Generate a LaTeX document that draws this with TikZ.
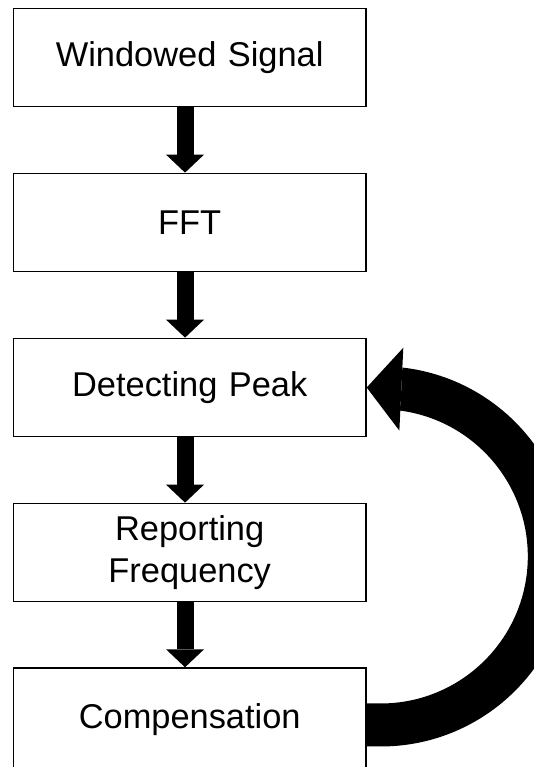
\documentclass[tikz,border=0pt]{standalone}
\usepackage{fontspec}
\setmainfont{Liberation Sans}
\usetikzlibrary{arrows.meta, positioning}

\begin{document}
\begin{tikzpicture}[x=0.75pt, y=0.75pt, font=\fontsize{25.8}{31.5}\selectfont, node distance=123.75pt]
    \tikzstyle{stage} = [rectangle, draw=black, line width=1pt, minimum width=264.5pt, minimum height=73.8pt,
      text width=250pt, align=center, inner sep=0pt]
    \tikzstyle{flow} = [-{Triangle[length=13.5pt, width=28.5pt, line width=0pt]}, line width=12.75pt]
    \tikzstyle{feedback} = [-{Triangle[length=26pt, width=62.25pt, line width=0pt]}, line width=32.25pt]

    \useasboundingbox (0,0) rectangle (534,-767);

    \node (window) [stage] at (189.7,-57.5) {Windowed Signal};
    \node (fft)    [stage, below of=window] {FFT};
    \node (detect) [stage, below of=fft] {Detecting Peak};
    \node (report) [stage, below of=detect] {Reporting\\Frequency};
    \node (comp)   [stage, below of=report, node distance=125.6pt, minimum height=78pt] {Compensation};

    \draw [flow] ([xshift=-3.5pt]window.south) -- ([xshift=-3.5pt]fft.north);
    \draw [flow] ([xshift=-3.5pt]fft.south) -- ([xshift=-3.5pt]detect.north);
    \draw [flow] ([xshift=-3.5pt]detect.south) -- ([xshift=-3.5pt]report.north);
    \draw [flow] ([xshift=-3.5pt]report.south) -- ([xshift=-3.5pt]comp.north);
    \draw [feedback] ([yshift=-3.75pt]comp.east) -- ++(14,0)
      arc[start angle=-90, end angle=82.5, radius=126.45pt] -- (detect.east);
\end{tikzpicture}
\end{document}
